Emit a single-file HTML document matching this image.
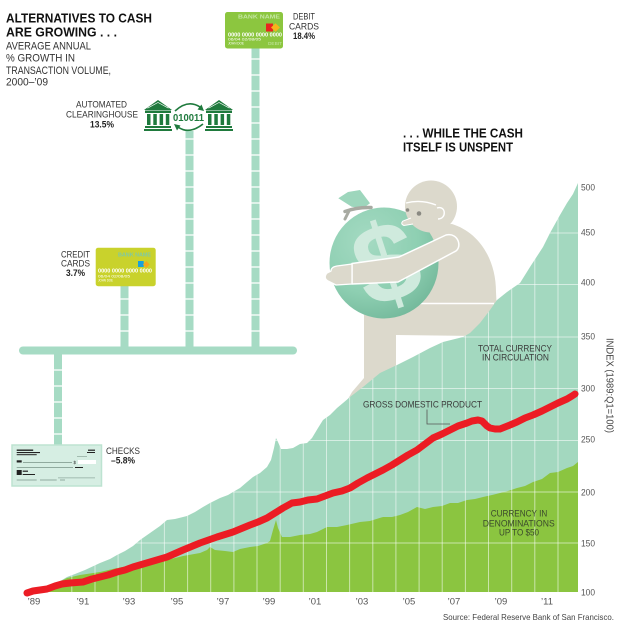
<!DOCTYPE html>
<html><head><meta charset="utf-8"><style>
html,body{margin:0;padding:0;background:#fff;}
svg{display:block;}
text{font-family:"Liberation Sans",Arial,sans-serif;}
</style></head><body>
<svg width="620" height="626" viewBox="0 0 620 626" xmlns="http://www.w3.org/2000/svg">
<defs>
<clipPath id="tc"><polygon points="27,592 35,591 45,588 55,584 62,580 67,577 75,574 85,570 100,563 110,559 117,555 125,551 133,546 140,540 150,533 160,526 167,520 175,519 187,516 195,512 203,507 210,503 220,498 228,495 233,492 240,488 247,482 253,477 260,473 267,467 271,460 274,448 276,438 278,442 281,449 287,449 293,448 300,444 307,443 312,438 318,428 323,420 330,415 337,408 343,403 350,397 363,387 380,373 397,365 413,357 430,348 443,342 463,337 470,333 480,323 490,310 497,300 507,292 520,283 530,267 543,247 550,233 560,215 567,203 573,194 578,183 578,592"/></clipPath>
<radialGradient id="bagg" cx="0.35" cy="0.3" r="0.85">
<stop offset="0" stop-color="#a4dac2"/><stop offset="0.55" stop-color="#8ecfb2"/><stop offset="1" stop-color="#6cb294"/>
</radialGradient>
</defs>
<rect width="620" height="626" fill="#fff"/>

<!-- Titles left -->
<text x="6" y="22.5" font-size="12.5" font-weight="bold" fill="#111" textLength="146" lengthAdjust="spacingAndGlyphs">ALTERNATIVES TO CASH</text>
<text x="6" y="36.5" font-size="12.5" font-weight="bold" fill="#111" textLength="111" lengthAdjust="spacingAndGlyphs">ARE GROWING . . .</text>
<text x="6" y="49.5" font-size="11" fill="#333" textLength="85" lengthAdjust="spacingAndGlyphs">AVERAGE ANNUAL</text>
<text x="6" y="61.7" font-size="11" fill="#333" textLength="69" lengthAdjust="spacingAndGlyphs">% GROWTH IN</text>
<text x="6" y="74" font-size="11" fill="#333" textLength="105" lengthAdjust="spacingAndGlyphs">TRANSACTION VOLUME,</text>
<text x="6" y="85.7" font-size="11" fill="#333" textLength="42" lengthAdjust="spacingAndGlyphs">2000–’09</text>

<!-- Pillars & bar -->
<g fill="#a6dbc4">
<rect x="251.5" y="47" width="8" height="301"/>
<rect x="185.5" y="131" width="8" height="217"/>
<rect x="120.5" y="285" width="8" height="63"/>
<rect x="54" y="352" width="8" height="94"/>
<rect x="19" y="346.5" width="278" height="8" rx="4"/>
</g>
<path stroke="#fff" stroke-width="1.2" fill="none" d="M251.5 59h8M251.5 75h8M251.5 91h8M251.5 107h8M251.5 123h8M251.5 139h8M251.5 155h8M251.5 171h8M251.5 187h8M251.5 203h8M251.5 219h8M251.5 235h8M251.5 251h8M251.5 267h8M251.5 283h8M251.5 299h8M251.5 315h8M251.5 331h8
M185.5 139h8M185.5 155h8M185.5 171h8M185.5 187h8M185.5 203h8M185.5 219h8M185.5 235h8M185.5 251h8M185.5 267h8M185.5 283h8M185.5 299h8M185.5 315h8M185.5 331h8
M120.5 299h8M120.5 315h8M120.5 331h8
M54 370h8M54 386h8M54 402h8M54 418h8M54 434h8"/>

<!-- Debit card -->
<rect x="225" y="12" width="58" height="36.5" rx="2.5" fill="#8cc63f"/>
<text x="238" y="18.3" font-size="5" font-weight="bold" fill="#c4e6a2" textLength="42" lengthAdjust="spacingAndGlyphs">BANK NAME</text>
<rect x="266" y="23.5" width="7" height="8" fill="#e8251f"/>
<polygon points="271,27.5 275.5,23.3 280,27.5 275.5,31.7" fill="#f7b31b"/>
<text x="228" y="36.7" font-size="5" font-weight="bold" fill="#fff" textLength="54" lengthAdjust="spacingAndGlyphs">0000 0000 0000 0000</text>
<text x="228" y="40.7" font-size="3.5" fill="#fff" textLength="33" lengthAdjust="spacingAndGlyphs">06/04    02/08/05</text>
<text x="228" y="44.5" font-size="3.5" fill="#fff" textLength="16" lengthAdjust="spacingAndGlyphs">JOHN DOE</text>
<text x="268" y="45" font-size="4.5" fill="#c4e6a2" textLength="14" lengthAdjust="spacingAndGlyphs">DEBIT</text>
<text x="293" y="19.5" font-size="9.5" fill="#333" textLength="22" lengthAdjust="spacingAndGlyphs">DEBIT</text>
<text x="289" y="29.3" font-size="9.5" fill="#333" textLength="30" lengthAdjust="spacingAndGlyphs">CARDS</text>
<text x="293" y="39" font-size="9.5" font-weight="bold" fill="#222" textLength="22" lengthAdjust="spacingAndGlyphs">18.4%</text>

<!-- ACH -->
<g fill="#1f7a3d">
<g transform="translate(144,100)">
<polygon points="0,10 14,0 28,10"/>
<rect x="1" y="10.5" width="26" height="2.5"/>
<rect x="3" y="14" width="3.5" height="11"/><rect x="9.3" y="14" width="3.5" height="11"/><rect x="15.6" y="14" width="3.5" height="11"/><rect x="21.8" y="14" width="3.5" height="11"/>
<rect x="1" y="26" width="26" height="2"/><rect x="0" y="29" width="28" height="2"/>
</g>
<g transform="translate(205,100)">
<polygon points="0,10 14,0 28,10"/>
<rect x="1" y="10.5" width="26" height="2.5"/>
<rect x="3" y="14" width="3.5" height="11"/><rect x="9.3" y="14" width="3.5" height="11"/><rect x="15.6" y="14" width="3.5" height="11"/><rect x="21.8" y="14" width="3.5" height="11"/>
<rect x="1" y="26" width="26" height="2"/><rect x="0" y="29" width="28" height="2"/>
</g>
<polygon points="204,111 197.5,109.5 201.5,104.5"/>
<polygon points="174,124 180.5,125.5 177,130.5"/>
</g>
<path d="M147.5 8.2 L158 2.5 L168.5 8.2" transform="translate(0,100)" fill="none" stroke="#fff" stroke-width="0.6"/>
<path d="M208.5 8.2 L219 2.5 L229.5 8.2" transform="translate(0,100)" fill="none" stroke="#fff" stroke-width="0.6"/>
<path d="M175 111 Q188 99 200 107" fill="none" stroke="#1f7a3d" stroke-width="1.6"/>
<path d="M203 124 Q189 135 178 127" fill="none" stroke="#1f7a3d" stroke-width="1.6"/>
<text x="173" y="121" font-family="Liberation Mono" font-size="10" font-weight="bold" fill="#1f7a3d" textLength="31" lengthAdjust="spacingAndGlyphs">010011</text>
<text x="76" y="107.5" font-size="9.5" fill="#333" textLength="51" lengthAdjust="spacingAndGlyphs">AUTOMATED</text>
<text x="66" y="117.3" font-size="9.5" fill="#333" textLength="72" lengthAdjust="spacingAndGlyphs">CLEARINGHOUSE</text>
<text x="90" y="127.3" font-size="9.5" font-weight="bold" fill="#222" textLength="24" lengthAdjust="spacingAndGlyphs">13.5%</text>

<!-- Credit card -->
<rect x="95.7" y="247.7" width="60" height="38.5" rx="2.5" fill="#c9d22c"/>
<text x="118" y="256.3" font-size="5" font-weight="bold" fill="#7ec9a6" textLength="33" lengthAdjust="spacingAndGlyphs">BANK NAME</text>
<rect x="138" y="261" width="5.7" height="6" fill="#1aa0db"/>
<polygon points="143,264.5 146.3,261 149.7,264.5 146.3,268" fill="#f6a71b"/>
<text x="98" y="272.5" font-size="5" font-weight="bold" fill="#fff" textLength="54" lengthAdjust="spacingAndGlyphs">0000 0000 0000 0000</text>
<text x="98" y="277.3" font-size="3.5" fill="#fff" textLength="32" lengthAdjust="spacingAndGlyphs">06/04    02/08/05</text>
<text x="98" y="281.5" font-size="3.5" fill="#fff" textLength="15" lengthAdjust="spacingAndGlyphs">JOHN DOE</text>
<text x="61" y="257.3" font-size="9.5" fill="#333" textLength="29" lengthAdjust="spacingAndGlyphs">CREDIT</text>
<text x="61" y="266.7" font-size="9.5" fill="#333" textLength="29" lengthAdjust="spacingAndGlyphs">CARDS</text>
<text x="66" y="276" font-size="9.5" font-weight="bold" fill="#222" textLength="19" lengthAdjust="spacingAndGlyphs">3.7%</text>

<!-- Check -->
<rect x="12" y="445" width="89.5" height="41" fill="#d6eee3" stroke="#bde3d1" stroke-width="1.5"/>
<g fill="#222">
<rect x="16.7" y="449.5" width="16.5" height="1.4"/>
<rect x="16.7" y="452" width="23.3" height="1.1"/>
<rect x="16.7" y="454.2" width="20" height="1"/>
<rect x="88" y="449.6" width="7" height="1.2"/>
<rect x="87" y="452" width="8" height="1"/>
<rect x="16.7" y="460.3" width="5" height="2.2"/>
<rect x="75" y="467" width="8" height="1"/>
<rect x="16.7" y="470" width="5" height="5"/>
<rect x="22.7" y="470.6" width="5.3" height="1.2"/>
<rect x="22.7" y="474" width="12.3" height="1"/>
</g>
<g fill="#7f9a8e">
<rect x="77" y="456" width="10" height="0.6"/>
<rect x="23" y="462" width="49" height="0.8"/>
<rect x="16.7" y="467" width="56.3" height="0.8"/>
<rect x="16.7" y="479.6" width="20" height="0.8"/>
<rect x="40" y="479.6" width="16.7" height="0.8"/>
<rect x="60" y="479.6" width="5" height="0.8"/>
<rect x="58" y="477.6" width="37" height="0.6"/>
</g>
<text x="73.5" y="464" font-size="4.5" fill="#333">$</text>
<rect x="78" y="460" width="18" height="4" fill="#fff"/>
<text x="106" y="454" font-size="9.5" fill="#333" textLength="34" lengthAdjust="spacingAndGlyphs">CHECKS</text>
<text x="111" y="463.3" font-size="9.5" font-weight="bold" fill="#222" textLength="24" lengthAdjust="spacingAndGlyphs">–5.8%</text>

<!-- Right title -->
<text x="403" y="137.3" font-size="13" font-weight="bold" fill="#111" textLength="120" lengthAdjust="spacingAndGlyphs">. . . WHILE THE CASH</text>
<text x="403" y="151.5" font-size="13" font-weight="bold" fill="#111" textLength="110" lengthAdjust="spacingAndGlyphs">ITSELF IS UNSPENT</text>

<!-- Man body (under chart) -->
<path d="M404,226 L452,224 C478,232 496,258 496,292 L497,312 L476,336 L396,335 L396,372 L362,406 L344,406 L352,392 L364,378 L364,300 L380,290 Z" fill="#dcd9cc"/>
<path d="M420,303.5 L494,303.5" stroke="#fff" stroke-width="1.5"/>

<!-- Bag -->
<ellipse cx="384" cy="263" rx="54.5" ry="55.5" fill="url(#bagg)"/>
<polygon points="338.3,198.3 348,192 360,190 370,203.3 363.3,208.3 351.7,206.7" fill="#9dd6bc"/>
<path d="M345,211.5 Q357,207 371,207.5" stroke="#a8aaa2" stroke-width="3.5" fill="none" stroke-linecap="round"/>
<path d="M349,211 L345,219" stroke="#a8aaa2" stroke-width="3" fill="none" stroke-linecap="round"/>
<text x="0" y="38" transform="translate(386.5,263.5) rotate(-18)" font-size="112" font-weight="bold" text-anchor="middle" fill="#cfeadd">$</text>

<!-- Head -->
<circle cx="431" cy="206.5" r="26" fill="#dcd9cc"/>
<path d="M406,203 Q421,199 436,205" stroke="#fff" stroke-width="1.4" fill="none"/>
<path d="M437,208 C446,205 447,219 438,219" stroke="#fff" stroke-width="1.4" fill="none"/>
<circle cx="419" cy="213.5" r="2.3" fill="#8a8982"/>
<circle cx="407.5" cy="210" r="1.8" fill="#8a8982"/>
<path d="M411,218 L403,221 Q400,224 404,225.5 L413,224" fill="#dcd9cc" stroke="#fff" stroke-width="1"/>

<!-- Arm & hand -->
<path d="M446,235 C459,232 463,249 454,252 L398,282 L352,284 L352,263.5 L399,257 Z" fill="#dcd9cc" stroke="#fff" stroke-width="1.5" stroke-linejoin="round"/>
<path d="M352,264 L337,266 Q331,267 331,271 L327,273 Q323,278 328,281 L336,285 L352,284 Z" fill="#dcd9cc" stroke="#fff" stroke-width="1.3" stroke-linejoin="round"/>

<!-- Chart fills -->
<polygon points="27,592 35,591 45,588 55,584 62,580 67,577 75,574 85,570 100,563 110,559 117,555 125,551 133,546 140,540 150,533 160,526 167,520 175,519 187,516 195,512 203,507 210,503 220,498 228,495 233,492 240,488 247,482 253,477 260,473 267,467 271,460 274,448 276,438 278,442 281,449 287,449 293,448 300,444 307,443 312,438 318,428 323,420 330,415 337,408 343,403 350,397 363,387 380,373 397,365 413,357 430,348 443,342 463,337 470,333 480,323 490,310 497,300 507,292 520,283 530,267 543,247 550,233 560,215 567,203 573,194 578,183 578,592" fill="#a3d8bf"/>
<polygon points="27,592 40,589 55,584 67,578 80,575 100,572 117,568 133,565 150,562 167,560 183,556 200,553 207,550 210,547 215,550 225,551 233,552 240,549 250,547 258,546 267,543 270,541 273,530 276,520 278,528 282,537 290,537 300,535 310,534 317,532 327,527 337,527 347,525 360,522 370,521 383,517 392,517 400,515 408,512 417,507 425,509 433,507 442,506 450,503 458,503 467,500 475,499 483,497 492,495 500,493 508,491 517,488 525,486 533,482 542,479 550,473 558,472 567,468 573,466 578,462 578,592" fill="#8bc540"/>
<g clip-path="url(#tc)" stroke="#fff" stroke-opacity="0.55" stroke-width="1" fill="none">
<path d="M48.7 180V592M71.8 180V592M95 180V592M118.1 180V592M141.3 180V592M164.4 180V592M187.6 180V592M210.7 180V592M233.9 180V592M257 180V592M280.2 180V592M303.3 180V592M326.5 180V592M349.6 180V592M372.8 180V592M395.9 180V592M419.1 180V592M442.2 180V592M465.4 180V592M488.5 180V592M511.7 180V592M534.8 180V592M558 180V592"/>
<path d="M27 543H578M27 492H578M27 440.5H578M27 388.5H578M27 337H578M27 284.5H578M27 233H578"/>
</g>

<!-- GDP line -->
<polyline points="27,593 33,591 40,590 47,589 55,586 62,584 70,583 83,582 92,579 100,577 108,575 117,572 125,570 133,567 150,562 167,557 183,550 200,543 217,537 233,532 250,525 258,522 267,518 275,513 283,508 292,503 300,502 308,500 317,499 325,496 333,493 342,491 350,488 358,483 367,478 375,474 383,470 392,465 400,460 408,455 417,450 425,444 433,438 442,434 450,430 458,426 467,423 472,421 478,420 482,421 487,426 490,428 495,429 500,429 505,427 510,425 517,422 525,418 533,415 542,411 550,407 558,403 567,399 572,396 575,394" fill="none" stroke="#ec1c24" stroke-width="7" stroke-linecap="round" stroke-linejoin="round"/>

<!-- Chart labels -->
<text x="478" y="351.7" font-size="9.5" fill="#3a3a3a" textLength="74" lengthAdjust="spacingAndGlyphs">TOTAL CURRENCY</text>
<text x="482" y="360.7" font-size="9.5" fill="#3a3a3a" textLength="67" lengthAdjust="spacingAndGlyphs">IN CIRCULATION</text>
<text x="363" y="407.3" font-size="9.5" fill="#3a3a3a" textLength="119" lengthAdjust="spacingAndGlyphs">GROSS DOMESTIC PRODUCT</text>
<path d="M427,409.5 V424 H450" fill="none" stroke="#555" stroke-width="0.8"/>
<text x="490.7" y="516.7" font-size="9.5" fill="#3b4a2c" textLength="56.6" lengthAdjust="spacingAndGlyphs">CURRENCY IN</text>
<text x="482.7" y="526.7" font-size="9.5" fill="#3b4a2c" textLength="72" lengthAdjust="spacingAndGlyphs">DENOMINATIONS</text>
<text x="499" y="535.7" font-size="9.5" fill="#3b4a2c" textLength="40" lengthAdjust="spacingAndGlyphs">UP TO $50</text>

<!-- Y axis -->
<g font-size="9.5" fill="#555">
<text x="581" y="190.5" textLength="14" lengthAdjust="spacingAndGlyphs">500</text>
<text x="581" y="235.5" textLength="14" lengthAdjust="spacingAndGlyphs">450</text>
<text x="581" y="285.5" textLength="14" lengthAdjust="spacingAndGlyphs">400</text>
<text x="581" y="339.5" textLength="14" lengthAdjust="spacingAndGlyphs">350</text>
<text x="581" y="391.5" textLength="14" lengthAdjust="spacingAndGlyphs">300</text>
<text x="581" y="442.5" textLength="14" lengthAdjust="spacingAndGlyphs">250</text>
<text x="581" y="495.5" textLength="14" lengthAdjust="spacingAndGlyphs">200</text>
<text x="581" y="546.5" textLength="14" lengthAdjust="spacingAndGlyphs">150</text>
<text x="581" y="595.5" textLength="14" lengthAdjust="spacingAndGlyphs">100</text>
</g>
<text transform="translate(606.5,338) rotate(90)" font-size="10.5" fill="#444" textLength="95" lengthAdjust="spacingAndGlyphs">INDEX (1989:Q1=100)</text>

<!-- X axis -->
<g font-size="9.5" fill="#555" text-anchor="middle">
<text x="34" y="604.3">’89</text>
<text x="83" y="604.3">’91</text>
<text x="129" y="604.3">’93</text>
<text x="177" y="604.3">’95</text>
<text x="223" y="604.3">’97</text>
<text x="269" y="604.3">’99</text>
<text x="315" y="604.3">’01</text>
<text x="362" y="604.3">’03</text>
<text x="409" y="604.3">’05</text>
<text x="454" y="604.3">’07</text>
<text x="501" y="604.3">’09</text>
<text x="547" y="604.3">’11</text>
</g>
<text x="443" y="620" font-size="8.5" fill="#444" textLength="171" lengthAdjust="spacingAndGlyphs">Source: Federal Reserve Bank of San Francisco.</text>
</svg>
</body></html>
